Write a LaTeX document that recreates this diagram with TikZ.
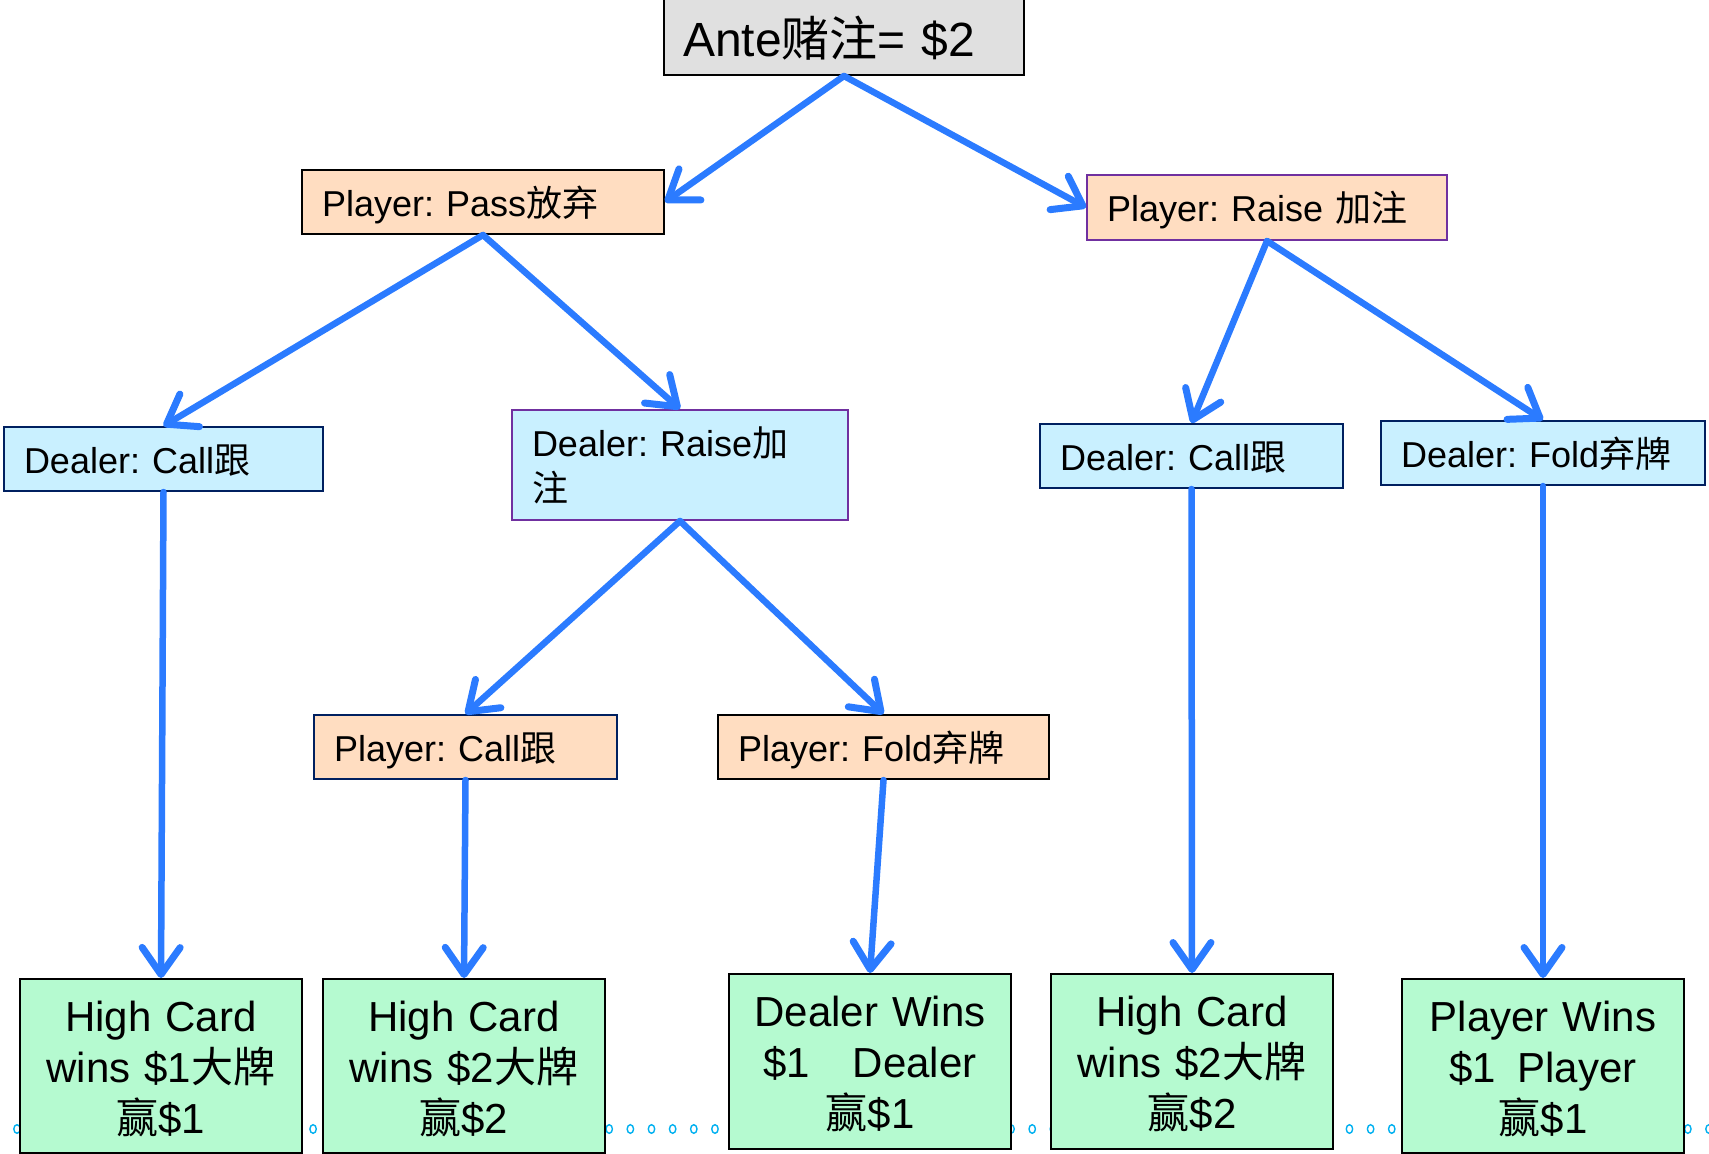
\documentclass[tikz,border=0pt]{standalone}
\usepackage{fontspec}
\setmainfont{Liberation Sans}
\newfontfamily\cjk{Noto Sans CJK SC}
\usetikzlibrary{arrows.meta}
\definecolor{arrowblue}{HTML}{2B7BFF}
\definecolor{antegray}{HTML}{E0E0E0}
\definecolor{peach}{HTML}{FFDDC1}
\definecolor{skyfill}{HTML}{C9F0FF}
\definecolor{mint}{HTML}{B5FAD0}
\definecolor{navyline}{HTML}{002060}
\definecolor{purpleline}{HTML}{7030A0}
\definecolor{dotcyan}{HTML}{00B0F0}
\frenchspacing
\begin{document}
\begin{tikzpicture}[x=1pt,y=-1pt,
  box/.style={draw, line width=2pt, anchor=north west, inner xsep=20pt, inner ysep=0pt,
    align=left, font=\fontsize{36}{45}\selectfont, text height=32pt, text depth=4pt,
    minimum height=64pt},
  player/.style={box, fill=peach},
  dealer/.style={box, fill=skyfill},
  outcome/.style={draw, line width=2pt, fill=mint, anchor=north west, inner xsep=6pt,
    inner ysep=0pt, align=center, font=\fontsize{42}{51}\selectfont,
    text height=37pt, text depth=107pt, text width=270pt},
  arr/.style={draw=arrowblue, line width=6.5pt, line cap=round,
    -{Straight Barb[length=27pt, width=38pt, line width=7pt, round]}},
  dot/.style={draw=dotcyan, line width=1.4pt, fill=white}
]
\useasboundingbox (0,0) rectangle (1709,1154);

% dotted baseline behind the outcome boxes
\foreach \k in {-1,...,80}
  \draw[dot] ({17+21.15*\k},1129) ellipse (3.2pt and 4.3pt);

% root
\node[box, fill=antegray, text width=322pt, minimum height=78pt,
  font=\fontsize{48}{58}\selectfont, text height=44pt, text depth=4pt, inner xsep=19pt]
  (ante) at (663,-4) {Ante{\cjk 赌注}= \$2};

% first decision
\node[player, text width=322pt] (pass) at (301,169) {Player: Pass{\cjk 放弃}};
\node[player, draw=purpleline, text width=320pt, minimum height=65pt]
  (praise) at (1086,174) {Player: Raise {\cjk 加注}};

% dealer responses
\node[dealer, draw=navyline, text width=279pt] (dcallL) at (3,426) {Dealer: Call{\cjk 跟}};
\node[dealer, draw=purpleline, text width=296pt, minimum height=110pt, text depth=49pt]
  (draise) at (511,409) {Dealer: Raise{\cjk 加}\\{\cjk 注}};
\node[dealer, draw=navyline, text width=263pt] (dcallR) at (1039,423) {Dealer: Call{\cjk 跟}};
\node[dealer, draw=navyline, text width=284pt] (dfold) at (1380,420) {Dealer: Fold{\cjk 弃牌}};

% player responses
\node[player, draw=navyline, text width=263pt] (pcall) at (313,714) {Player: Call{\cjk 跟}};
\node[player, text width=291pt] (pfold) at (717,714) {Player: Fold{\cjk 弃牌}};

% outcomes
\node[outcome, minimum height=174pt] (g1) at (19,978)
  {High Card\\wins \$1{\cjk 大牌}\\{\cjk 赢}\$1};
\node[outcome, minimum height=174pt] (g2) at (322,978)
  {High Card\\wins \$2{\cjk 大牌}\\{\cjk 赢}\$2};
\node[outcome, minimum height=175pt] (g3) at (728,973)
  {Dealer Wins\\\$1\hspace{43pt}Dealer\\{\cjk 赢}\$1};
\node[outcome, minimum height=175pt] (g4) at (1050,973)
  {High Card\\wins \$2{\cjk 大牌}\\{\cjk 赢}\$2};
\node[outcome, minimum height=174pt] (g5) at (1401,978)
  {Player Wins\\\$1\hspace{21pt}Player\\{\cjk 赢}\$1};

% game-tree connectors
\draw[arr] (ante.south) -- (pass.east);
\draw[arr] (ante.south) -- (praise.west);
\draw[arr] (pass.south) -- (dcallL.north);
\draw[arr] (pass.south) -- (draise.north);
\draw[arr] (praise.south) -- (dcallR.north);
\draw[arr] (praise.south) -- (dfold.north);
\draw[arr] (draise.south) -- (pcall.north);
\draw[arr] (draise.south) -- (pfold.north);
\draw[arr] (dcallL.south) -- (g1.north);
\draw[arr] (pcall.south) -- (g2.north);
\draw[arr] (pfold.south) -- (g3.north);
\draw[arr] (dcallR.south) -- (g4.north);
\draw[arr] (dfold.south) -- (g5.north);
\end{tikzpicture}
\end{document}
